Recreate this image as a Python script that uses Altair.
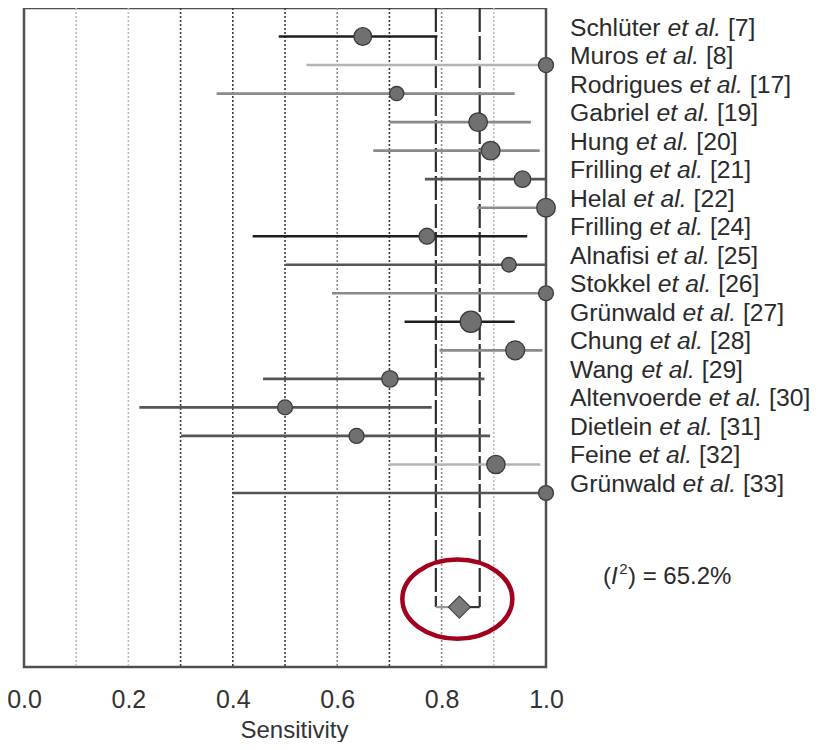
import altair as alt
import pandas as pd

# ---------------- data ----------------
studies = ["Schlüter", "Muros", "Rodrigues", "Gabriel", "Hung", "Frilling", "Helal",
           "Frilling", "Alnafisi", "Stokkel", "Grünwald", "Chung", "Wang",
           "Altenvoerde", "Dietlein", "Feine", "Grünwald"]
refs = ["[7]", "[8]", "[17]", "[19]", "[20]", "[21]", "[22]", "[24]", "[25]", "[26]",
        "[27]", "[28]", "[29]", "[30]", "[31]", "[32]", "[33]"]
sensitivity = [0.649, 1.000, 0.714, 0.870, 0.894, 0.955, 1.000, 0.772, 0.929, 1.000,
               0.856, 0.941, 0.701, 0.500, 0.637, 0.904, 1.000]
ci_lower = [0.488, 0.541, 0.369, 0.700, 0.669, 0.768, 0.868, 0.438, 0.501, 0.590,
            0.729, 0.796, 0.458, 0.221, 0.301, 0.699, 0.399]
ci_upper = [0.792, 1.000, 0.940, 0.971, 0.988, 1.000, 1.000, 0.964, 1.000, 1.000,
            0.940, 0.993, 0.882, 0.781, 0.893, 0.989, 1.000]
study_weight = [20, 17, 16, 21, 21, 18.6, 21, 18, 16.4, 16.8, 24, 21.4, 18.6, 16.8,
                17, 20.7, 16.8]
line_tone = ["black", "light", "mid", "mid", "mid", "dark", "mid", "black", "dark",
             "mid", "black", "mid", "dark", "dark", "dark", "light", "dark"]

pooled_est = 0.834
pooled_lo = 0.789
pooled_hi = 0.873
heterogeneity = "65.2%"

grid_values = [0.1, 0.2, 0.3, 0.4, 0.5, 0.6, 0.7, 0.8, 0.9]
grid_tone = ["light", "light", "dark", "dark", "dark", "mid", "dark", "mid", "light"]
tick_values = [0.0, 0.2, 0.4, 0.6, 0.8, 1.0]

# ---------------- layout helpers ----------------
W, H = 522, 659
FONT = "Liberation Sans"
LABEL_SIZE = 24.7

ARIAL = {" ": 278, "(": 333, ")": 333, ".": 278, "[": 278, "]": 278, "=": 584, "%": 889,
         "A": 667, "B": 667, "C": 722, "D": 722, "E": 667, "F": 611, "G": 778, "H": 722,
         "I": 278, "J": 500, "K": 667, "L": 556, "M": 833, "N": 722, "O": 778, "P": 667,
         "R": 722, "S": 667, "T": 611, "U": 722, "V": 667, "W": 944,
         "a": 556, "b": 556, "c": 500, "d": 556, "e": 556, "f": 278, "g": 556, "h": 556,
         "i": 222, "j": 222, "k": 500, "l": 222, "m": 833, "n": 556, "o": 556, "p": 556,
         "q": 556, "r": 333, "s": 500, "t": 278, "u": 556, "v": 500, "w": 722, "x": 500,
         "y": 500, "z": 500, "ü": 556}


def tw(s, size):
    return sum(ARIAL.get(c, 556) for c in s) * size / 1000.0


def px_to_x(px):
    return 1.0 + px / W


TONE_COLORS = {"black": "#1e1e1e", "dark": "#555555", "mid": "#8a8a8a", "light": "#b4b4b4"}
GRID_COLORS = {"dark": "#3a3a3a", "mid": "#8c8c8c", "light": "#bdbdbd"}

rows = list(range(1, len(studies) + 1))
pooled_row = 21

df = pd.DataFrame({
    "row": rows, "study": studies, "ref": refs, "sens": sensitivity,
    "lo": ci_lower, "hi": ci_upper, "w": study_weight, "tone": line_tone,
})
df["col"] = df["tone"].map(TONE_COLORS)
df["sz"] = 0.785 * df["w"] ** 2
label_gap = 24
df["x_name"] = px_to_x(label_gap)
df["x_etal"] = [px_to_x(label_gap + tw(s + " ", LABEL_SIZE)) for s in studies]
df["x_ref"] = [px_to_x(label_gap + tw(s + " et al. ", LABEL_SIZE)) for s in studies]
df["etal"] = "et al."

grid_df = pd.DataFrame({"g": grid_values, "tone": grid_tone})
grid_df["col"] = grid_df["tone"].map(GRID_COLORS)
pooled_df = pd.DataFrame({"est": [pooled_est], "lo": [pooled_lo], "hi": [pooled_hi],
                          "row": [pooled_row]})
vlines_df = pd.DataFrame({"v": [pooled_lo, pooled_hi], "top": [0, 0],
                          "bottom": [pooled_row, pooled_row]})

# "(I²) = 65.2%" built from pieces: normal, italic I, superscript 2
i2_x0 = 57
x_paren = i2_x0
x_I = x_paren + tw("(", 24)
x_sup = x_I + tw("I", 24) + 1.5
x_close = x_sup + tw("2", 15) + 0.5
i2_norm_df = pd.DataFrame({"txt": ["(", ") = " + heterogeneity],
                           "x": [px_to_x(x_paren), px_to_x(x_close)],
                           "row": [pooled_row] * 2})
i2_ital_df = pd.DataFrame({"txt": ["I"], "x": [px_to_x(x_I)], "row": [pooled_row]})
i2_sup_df = pd.DataFrame({"txt": ["2"], "x": [px_to_x(x_sup)], "row": [pooled_row]})

xscale = alt.Scale(domain=[0, 1], nice=False, zero=False)
yscale = alt.Scale(domain=[0, 23.1], reverse=True, nice=False, zero=False)

XAXIS = alt.Axis(values=tick_values, format=".1f", title="Sensitivity",
                 labelFont=FONT, labelFontSize=25, labelColor="#333333",
                 labelPadding=20, ticks=False, domain=False, grid=False,
                 titleFont=FONT, titleFontSize=24, titleFontWeight="normal",
                 titleColor="#333333", titleX=270, titleY=70,
                 titleBaseline="alphabetic", labelFlush=False)


def X(field):
    return alt.X(field, scale=xscale, axis=XAXIS, title="Sensitivity")


def Y(field):
    return alt.Y(field, scale=yscale, axis=None)


grid = alt.Chart(grid_df).mark_rule(strokeDash=[2, 2], strokeWidth=1.6).encode(
    x=X("g:Q"),
    color=alt.Color("col:N", scale=None),
)

vlines = alt.Chart(vlines_df).mark_rule(strokeDash=[24, 4], strokeWidth=2.2,
                                        color="#2e2e2e").encode(
    x=X("v:Q"), y=Y("top:Q"), y2="bottom:Q")

pooled_left = alt.Chart(pooled_df).mark_rule(strokeWidth=2.2, color="#9a9a9a").encode(
    x=X("lo:Q"), x2="est:Q", y=Y("row:Q"))
pooled_right = alt.Chart(pooled_df).mark_rule(strokeWidth=2.2, color="#333333").encode(
    x=X("est:Q"), x2="hi:Q", y=Y("row:Q"))

ci = alt.Chart(df).mark_rule(strokeWidth=2.6).encode(
    x=X("lo:Q"), x2="hi:Q", y=Y("row:Q"),
    color=alt.Color("col:N", scale=None),
)

points = alt.Chart(df).mark_circle(fill="#707070", stroke="#3a3a3a", strokeWidth=1.3,
                                   opacity=1).encode(
    x=X("sens:Q"), y=Y("row:Q"), size=alt.Size("sz:Q", scale=None))

diamond = alt.Chart(pooled_df).mark_point(shape="diamond", filled=True, fill="#7a7a7a",
                                          stroke="#444444", strokeWidth=1.3, size=484,
                                          opacity=1).encode(
    x=X("est:Q"), y=Y("row:Q"))

ellipse_path = ("M -1 0 C -1 -0.3977 -0.5523 -0.72 0 -0.72 "
                "C 0.5523 -0.72 1 -0.3977 1 0 "
                "C 1 0.3977 0.5523 0.72 0 0.72 "
                "C -0.5523 0.72 -1 0.3977 -1 0 Z")
ellipse = alt.Chart(pooled_df).mark_point(shape=ellipse_path, filled=False,
                                          stroke="#a3001e", strokeWidth=4.5, size=12100,
                                          opacity=1, xOffset=-2, yOffset=-8).encode(
    x=X("est:Q"), y=Y("row:Q"))

txt_common = dict(align="left", baseline="alphabetic", font=FONT, fontSize=LABEL_SIZE,
                  color="#2a2a2a", dy=-1)
names = alt.Chart(df).mark_text(**txt_common).encode(
    x=X("x_name:Q"), y=Y("row:Q"), text="study:N")
etal = alt.Chart(df).mark_text(fontStyle="italic", **txt_common).encode(
    x=X("x_etal:Q"), y=Y("row:Q"), text="etal:N")
refs_t = alt.Chart(df).mark_text(**txt_common).encode(
    x=X("x_ref:Q"), y=Y("row:Q"), text="ref:N")

i2_common = dict(align="left", baseline="alphabetic", font=FONT, color="#2a2a2a")
i2_norm = alt.Chart(i2_norm_df).mark_text(fontSize=24, dy=-23, **i2_common).encode(
    x=X("x:Q"), y=Y("row:Q"), text="txt:N")
i2_ital = alt.Chart(i2_ital_df).mark_text(fontSize=24, dy=-23, fontStyle="italic",
                                          **i2_common).encode(
    x=X("x:Q"), y=Y("row:Q"), text="txt:N")
i2_sup = alt.Chart(i2_sup_df).mark_text(fontSize=15, dy=-33, **i2_common).encode(
    x=X("x:Q"), y=Y("row:Q"), text="txt:N")

chart = alt.layer(
    grid, vlines, pooled_left, pooled_right, ci, points, diamond, ellipse,
    names, etal, refs_t, i2_norm, i2_ital, i2_sup,
).properties(
    width=W, height=H,
    autosize=alt.AutoSizeParams(type="none"),
    padding={"left": 16, "top": 0, "right": 264, "bottom": 75},
).configure_view(stroke="#4f4f4f", strokeWidth=2.5)

chart.save("out.html", embed_options={"renderer": "svg", "actions": False})
